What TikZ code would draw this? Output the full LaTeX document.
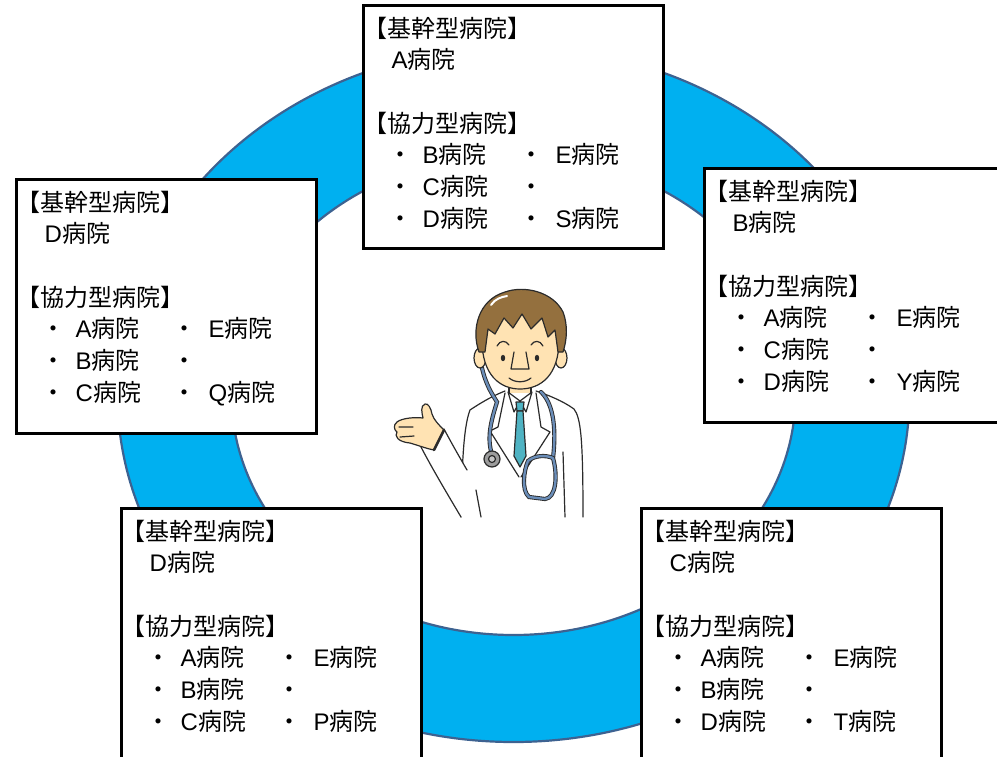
\documentclass[tikz,border=0pt]{standalone}
\usepackage{fontspec}
\setmainfont{Noto Sans CJK JP}
\newfontfamily\latinfont{Liberation Sans}
\usepackage{xcolor}
\usepackage{tikz}
\usetikzlibrary{positioning}
\definecolor{RingBlue}{HTML}{00B0F0}
\definecolor{RingEdge}{HTML}{3D6291}
\definecolor{DocHair}{HTML}{94703E}
\definecolor{DocSkin}{HTML}{FFE3B3}
\definecolor{DocTie}{HTML}{4FB3C3}
\definecolor{DocTube}{HTML}{6A8DB8}
\definecolor{DocLine}{HTML}{2B2B2B}
\definecolor{DocGray}{HTML}{9C9C9C}
\newcommand{\hospfont}{\fontsize{24pt}{31.7pt}\selectfont}
\newcommand{\coreline}[1]{\hspace*{28pt}{\latinfont #1}病院}
\newcommand{\coopline}[2]{\makebox[156pt][l]{\hspace*{25pt}・\hspace{10pt}{\latinfont #1}病院}・\hspace{12pt}\if\relax\detokenize{#2}\relax\else{\latinfont #2}病院\fi}
\newcommand{\hospcard}[7]{【基幹型病院】\\ \coreline{#1}\\[31.7pt]
  【協力型病院】\\ \coopline{#2}{#3}\\ \coopline{#4}{#5}\\ \coopline{#6}{#7}}
\tikzset{
  hospbox/.style={draw=black, line width=3pt, fill=white, anchor=north west, inner sep=0pt, outer sep=0pt, minimum width=300pt, minimum height=254pt},
  hosptext/.style={align=left, inner sep=0pt, font=\hospfont, text=black},
  ringedge/.style={draw=RingEdge, line width=2.2pt},
  docline/.style={draw=DocLine, line width=1.2pt, line join=round, line cap=round},
  tube/.style={draw=DocLine, line width=0.9pt, double=DocTube, double distance=2.4pt, line cap=round}
}

\begin{document}
\begin{tikzpicture}[x=1pt, y=-1pt, node distance=12pt]
\useasboundingbox (0,0) rectangle (997,756);
\clip (0,0) rectangle (997,756);

% blue ring
\coordinate (ringc) at (513.5,394.5);
\fill[RingBlue, even odd rule] (ringc) ellipse [x radius=396pt, y radius=347.5pt]
  (ringc) ellipse [x radius=282pt, y radius=240.5pt];
\draw[ringedge] (ringc) ellipse [x radius=396pt, y radius=347.5pt];
\draw[ringedge] (ringc) ellipse [x radius=282pt, y radius=240.5pt];

% doctor: coat
\fill[white] (470,410) .. controls (485,400) and (495,395) .. (505,391) -- (536,391)
  .. controls (548,395) and (563,401) .. (574,409) .. controls (581,418) and (583,440) .. (583,517)
  -- (461,517) .. controls (462,470) and (463,428) .. (470,410) -- cycle;
\draw[docline] (461,517) .. controls (462,470) and (463,428) .. (470,410) .. controls (485,400) and (495,395) .. (505,391);
\draw[docline] (536,391) .. controls (548,395) and (563,401) .. (574,409) .. controls (581,418) and (583,440) .. (583,517);
\draw[docline] (563,452) -- (565,517);
% neck, collar, tie
\fill[DocSkin] (509,380) rectangle (531,398);
\draw[docline] (509,380) -- (509,396) (531,380) -- (531,396);
\fill[white] (505,393) -- (520,470) -- (536,393) -- cycle;
\draw[docline, fill=white] (508,392) -- (514,412) -- (520,401) -- cycle;
\draw[docline, fill=white] (532,392) -- (526,412) -- (520,401) -- cycle;
\draw[docline, fill=DocTie] (516,402) -- (524,402) -- (523,411) -- (517,411) -- cycle;
\draw[docline, fill=DocTie] (517,411) -- (514,456) -- (520,467) -- (526,456) -- (523,411) -- cycle;
\draw[docline] (505,393) -- (498,427) -- (490,431) -- (519,477);
\draw[docline] (536,393) -- (541,427) -- (550,432) -- (521,477);
% stethoscope
\draw[tube] (482,368) .. controls (486,385) and (492,394) .. (497,402) .. controls (492,418) and (487,435) .. (491,451);
\draw[tube] (541,392) .. controls (552,402) and (557,425) .. (553,458);
\draw[tube] (553,458) .. controls (558,476) and (556,498) .. (545,499) -- (529,497)
  .. controls (521,490) and (524,470) .. (528,461) .. controls (535,455) and (546,455) .. (553,458);
\draw[docline, fill=DocGray] (492,459) circle [radius=8pt];
\draw[docline, fill=DocGray!60] (492,459) circle [radius=3.5pt];
% sleeve and hand
\fill[white] (421,447) -- (444,429) .. controls (452,444) and (460,458) .. (467,470) -- (482,517) -- (461,517)
  .. controls (448,495) and (433,470) .. (421,447) -- cycle;
\draw[docline] (444,429) .. controls (452,444) and (460,458) .. (467,470);
\draw[docline] (421,447) .. controls (433,470) and (448,495) .. (461,517);
\draw[docline] (476,490) -- (481,517);
\draw[docline, fill=DocSkin] (444,430) .. controls (438,424) and (434,420) .. (432,414)
  .. controls (431,408) and (428,403) .. (425,404) .. controls (420,406) and (422,413) .. (423,418)
  .. controls (415,417) and (402,418) .. (397,422) .. controls (393,425) and (394,430) .. (397,432)
  .. controls (394,436) and (398,442) .. (410,443) .. controls (420,446) and (428,449) .. (434,450) -- cycle;
\draw[docline] (399,427) -- (413,427) (400,437) -- (414,436);
\draw[DocLine, line width=2.6pt, line cap=round] (434,450) -- (444,430);
% head
\draw[docline, fill=DocSkin] (480,358) ellipse [x radius=6pt, y radius=10pt];
\draw[docline, fill=DocSkin] (561,358) ellipse [x radius=6pt, y radius=10pt];
\draw[docline, fill=DocSkin] (482,340) .. controls (482,375) and (500,389) .. (520,389)
  .. controls (541,389) and (559,375) .. (559,340) .. controls (559,310) and (540,300) .. (520,300)
  .. controls (500,300) and (482,310) .. (482,340) -- cycle;
\draw[docline, fill=DocHair] (479,352) .. controls (471,330) and (478,300) .. (505,292)
  .. controls (525,285) and (553,292) .. (563,312) .. controls (568,325) and (567,340) .. (563,352)
  -- (558,352) -- (555,330) -- (548,337) -- (542,318) -- (531,329) -- (522,314) -- (513,328)
  -- (504,318) -- (495,334) -- (488,329) -- (485,352) -- cycle;
\draw[white, line width=2pt, line cap=round] (491,305) .. controls (495,299) and (501,297) .. (507,296);
\fill[DocLine] (503,358) ellipse [x radius=2.2pt, y radius=3.2pt];
\fill[DocLine] (537,358) ellipse [x radius=2.2pt, y radius=3.2pt];
\draw[docline] (497,346) .. controls (500,340) and (506,340) .. (509,345);
\draw[docline] (531,345) .. controls (534,340) and (540,340) .. (543,346);
\draw[docline] (514,352) -- (511,369) -- (529,369) -- (526,352);
\draw[docline] (509,378) .. controls (515,383) and (525,383) .. (531,378);

% hospital cards
\node[hospbox, minimum height=243pt] (boxA) at (363.5,5.5) {};
\node[hospbox] (boxD) at (16.5,179.5) {};
\node[hospbox] (boxB) at (704.5,168.5) {};
\node[hospbox] (boxDlow) at (121.5,508.5) {};
\node[hospbox] (boxC) at (641.5,508.5) {};

\node[hosptext, below right=11pt and 0pt of boxA.north west] (listA) {\hospcard{A}{B}{E}{C}{}{D}{S}};
\node[hosptext, below right=11pt and 0pt of boxD.north west] (listD) {\hospcard{D}{A}{E}{B}{}{C}{Q}};
\node[hosptext, below right=11pt and 0pt of boxB.north west] (listB) {\hospcard{B}{A}{E}{C}{}{D}{Y}};
\node[hosptext, below right=11pt and 0pt of boxDlow.north west] (listDlow) {\hospcard{D}{A}{E}{B}{}{C}{P}};
\node[hosptext, below right=11pt and 0pt of boxC.north west] (listC) {\hospcard{C}{A}{E}{B}{}{D}{T}};
\end{tikzpicture}
\end{document}
